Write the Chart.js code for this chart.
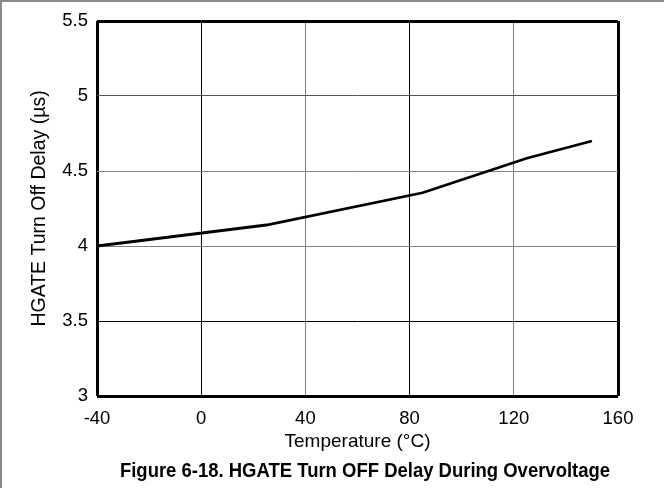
<!DOCTYPE html>
<html>
<head>
<meta charset="utf-8">
<script src="https://cdn.jsdelivr.net/npm/chart.js@4/dist/chart.umd.min.js"></script>
<style>
  html, body { margin: 0; padding: 0; background: #fff; }
  #wrap { position: relative; width: 664px; height: 488px; overflow: hidden; }
  #frame { position: absolute; left: 0; top: 0; width: 664px; height: 488px; box-sizing: border-box;
           border-top: 2px solid #8a8a8a; border-left: 2px solid #8a8a8a; pointer-events: none; }
  #caption { position: absolute; left: 66px; top: 458px; width: 598px; height: 24px; line-height: 24px;
             text-align: center; white-space: nowrap; color: #000;
             font-family: 'Liberation Sans', Arial, Helvetica, sans-serif; font-weight: bold; font-size: 21px;
             transform: scaleX(0.88); transform-origin: 50% 50%; }
  canvas { display: block; }
</style>
</head>
<body>
<div id="wrap">
  <canvas id="c" width="664" height="488"></canvas>
  <div id="caption"></div>
  <div id="frame"></div>
</div>
<script>
// Data
const temperatures = [-40, 25, 85, 125, 150];          // °C
const turnOffDelay = [4.00, 4.14, 4.355, 4.585, 4.70];  // µs

const xTickValues = [-40, 0, 40, 80, 120, 160];
const yTickValues = [3, 3.5, 4, 4.5, 5, 5.5];
const yTickLabels = ['3', '3.5', '4', '4.5', '5', '5.5'];

const xTitle = 'Temperature (°C)';
const yTitle = 'HGATE Turn Off Delay (µs)';
const caption = 'Figure 6-18. HGATE Turn OFF Delay During Overvoltage';

document.getElementById('caption').textContent = caption;

const FONT = "'Liberation Sans', Arial, Helvetica, sans-serif";

const points = temperatures.map((t, i) => ({ x: t, y: turnOffDelay[i] }));

function xGridColor(v) {
  if (v === -40 || v === 160) return '#000';
  return (v === 40 || v === 120) ? '#7f7f7f' : '#000';
}
function yGridColor(v) {
  if (v === 3 || v === 5.5 || v === 3.5) return '#000';
  if (v === 5) return '#555';
  return '#808080';
}

new Chart(document.getElementById('c'), {
  type: 'line',
  data: {
    datasets: [{
      data: points,
      borderColor: '#000',
      borderWidth: 2.8,
      pointRadius: 0,
      tension: 0,
      fill: false
    }]
  },
  options: {
    responsive: false,
    animation: false,
    events: [],
    layout: { padding: { top: 21, right: 46, left: 0, bottom: 32 } },
    plugins: {
      legend: { display: false },
      tooltip: { enabled: false },
      title: { display: false }
    },
    scales: {
      x: {
        type: 'linear',
        min: -40, max: 160,
        afterBuildTicks: s => { s.ticks = xTickValues.map(v => ({ value: v })); },
        afterFit: s => { s.height = 60; },
        ticks: { color: '#000', font: { family: FONT, size: 18.5 }, padding: 12, maxRotation: 0 },
        grid: {
          drawTicks: false,
          color: c => xGridColor(c.tick ? c.tick.value : null),
          lineWidth: c => (c.tick && (c.tick.value === -40 || c.tick.value === 160)) ? 3 : 1
        },
        border: { display: false },
        title: { display: true, text: xTitle, color: '#000', font: { family: FONT, size: 19 }, padding: { top: 0, bottom: 3 } }
      },
      y: {
        type: 'linear',
        min: 3, max: 5.5,
        afterBuildTicks: s => { s.ticks = yTickValues.map(v => ({ value: v })); },
        afterFit: s => { s.width = 97; },
        ticks: {
          color: '#000', font: { family: FONT, size: 18.5 }, padding: 9,
          callback: v => { const i = yTickValues.indexOf(v); return i >= 0 ? yTickLabels[i] : ''; }
        },
        grid: {
          drawTicks: false,
          color: c => yGridColor(c.tick ? c.tick.value : null),
          lineWidth: c => (c.tick && (c.tick.value === 3 || c.tick.value === 5.5)) ? 3 : 1
        },
        border: { display: false },
        title: { display: true, text: yTitle, color: '#000', font: { family: FONT, size: 19.5 }, padding: { top: 28, bottom: 0 } }
      }
    }
  }
});
</script>
</body>
</html>
